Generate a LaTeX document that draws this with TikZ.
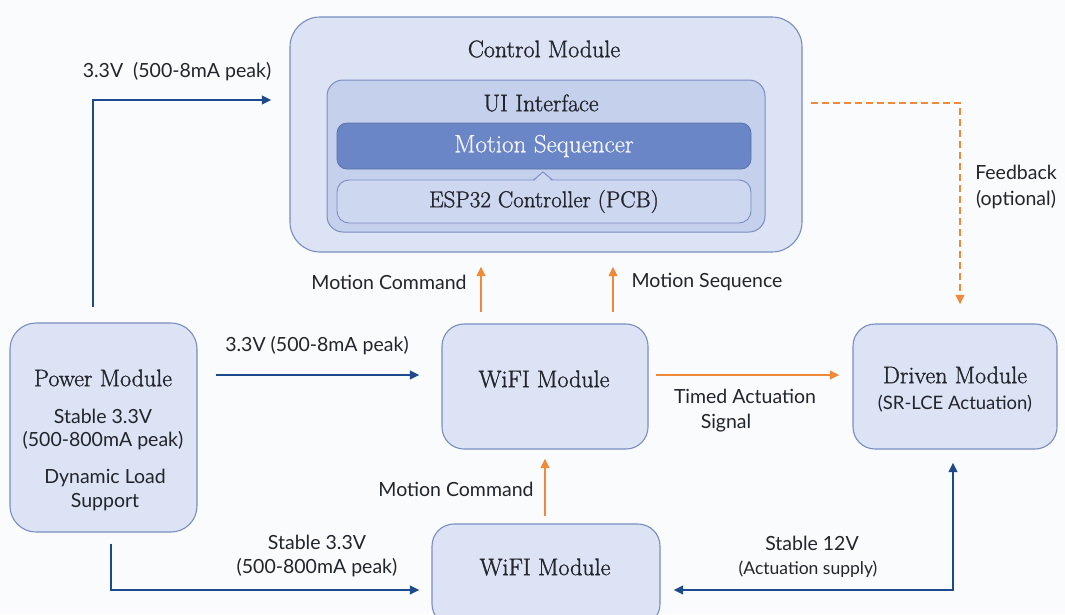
\documentclass[tikz,border=0pt]{standalone}
\usepackage{fontspec}
\newfontfamily\lab{Lato}
\newfontfamily\ttl{Latin Modern Roman}[FakeBold=1.2]
\newfontfamily\ttllight{Latin Modern Roman}[FakeBold=0.6]
\usetikzlibrary{arrows.meta,calc}
\definecolor{bg}{HTML}{FAFBFD}
\definecolor{boxfill}{HTML}{DCE3F4}
\definecolor{boxline}{HTML}{7A8DC0}
\definecolor{uifill}{HTML}{C5D0EC}
\definecolor{seqfill}{HTML}{6A86C7}
\definecolor{espfill}{HTML}{CED7F0}
\definecolor{pwr}{HTML}{1D4A8C}
\definecolor{sig}{HTML}{F08A3A}
\definecolor{ink}{HTML}{23252C}
\tikzset{
  x=1pt, y=-1pt,
  module/.style={draw=boxline, fill=boxfill, line width=1.1pt, rounded corners=22pt, inner sep=0pt},
  title/.style={font=\ttl\fontsize{24}{27}\selectfont, text=ink},
  lbl/.style={font=\lab\fontsize{19.5}{22}\selectfont, text=ink},
  pw/.style={draw=pwr, line width=2.2pt, -{Triangle[length=9.5pt,width=8.5pt]}},
  pwboth/.style={draw=pwr, line width=2.2pt, {Triangle[length=9.5pt,width=8.5pt]}-{Triangle[length=9.5pt,width=8.5pt]}},
  sg/.style={draw=sig, line width=2.2pt, -{Triangle[length=9.5pt,width=8.5pt]}},
  fb/.style={draw=sig, line width=2pt, dash pattern=on 7pt off 4pt, -{Triangle[length=9.5pt,width=8.5pt]}},
}
\begin{document}
\begin{tikzpicture}
\fill[bg] (0,0) rectangle (1065,614);
\useasboundingbox (0,0) rectangle (1065,614);

% control module and its nested blocks
\node[module, minimum width=512pt, minimum height=235pt, rounded corners=30pt] (ctrl) at (546,134.5) {};
\node[title] (ctrlt) at (544,49) {Control Module};
\node[draw=boxline, fill=uifill, line width=1pt, rounded corners=16pt, minimum width=438pt, minimum height=152pt] (ui) at (546,156) {};
\node[title] (uit) at (541,103) {UI Interface};
\node[draw=seqfill!85!black, fill=seqfill, line width=0.8pt, rounded corners=10pt, minimum width=414pt, minimum height=46pt,
      title, font=\ttllight\fontsize{25}{28}\selectfont, text=white!92!seqfill] (seq) at (544,146) {Motion Sequencer};
\filldraw[draw=boxline, fill=espfill, line width=0.9pt] (533,180.5) -- (543,172) -- (553,180.5);
\node[draw=boxline, fill=espfill, line width=0.9pt, rounded corners=12pt, minimum width=414pt, minimum height=43pt,
      title, font=\ttl\fontsize{23}{26}\selectfont] (esp) at (544,201.5) {ESP32 Controller (PCB)};
\fill[espfill] (534.5,181.3) -- (543,174) -- (551.5,181.3) -- cycle;

% power module
\node[module, minimum width=187pt, minimum height=209pt, rounded corners=26pt] (power) at (103.5,427.5) {};
\node[title] (powt) at (103,378) {Power Module};
\node[lbl] (pow1) at (103,416) {Stable 3.3V};
\node[lbl] (pow2) at (103,441) {(500-800mA peak)};
\node[lbl] (pow3) at (105,478) {Dynamic Load};
\node[lbl] (pow4) at (105,502) {Support};

% WiFi modules and driven module
\node[module, minimum width=206pt, minimum height=125pt] (wifi) at (545,386.5) {};
\node[title] (wifit) at (544,379) {WiFI Module};
\node[module, minimum width=204pt, minimum height=125pt] (drv) at (955,386.5) {};
\node[title] (drvt) at (955,375) {Driven Module};
\node[lbl, font=\lab\fontsize{18.5}{21}\selectfont] (drvs) at (955,404) {(SR-LCE Actuation)};
\node[module, minimum width=228pt, minimum height=102pt] (wifib) at (546,575) {};
\node[title] (wifibt) at (545,567) {WiFI Module};

% power connectors
\draw[pw, shorten <=15pt, shorten >=18pt] ([xshift=-10.5pt]power.north) |- (ctrl.west |- 0,100);
\node[lbl] (l1) at (177,72) {3.3V\ \ (500-8mA peak)};
\draw[pw, shorten <=18pt, shorten >=22pt] (power.east |- 0,375) -- (wifi.west |- 0,375);
\node[lbl] (l2) at (317,346) {3.3V (500-8mA peak)};
\draw[pw, shorten <=11pt, shorten >=12pt] ([xshift=7.5pt]power.south) |- (wifib.west |- 0,590);
\node[lbl] (l3) at (317,542) {Stable 3.3V};
\node[lbl] (l4) at (317,568) {(500-800mA peak)};
\draw[pwboth, shorten <=13pt, shorten >=13pt] (wifib.east |- 0,590) -| (drv.south -| 953,0);
\node[lbl] (l5) at (812,543) {Stable 12V};
\node[lbl, font=\lab\fontsize{17.5}{20}\selectfont] (l6) at (808,569) {(Actuation supply)};

% signal connectors
\draw[sg, shorten <=11pt, shorten >=14pt] (wifi.north -| 481,0) -- (ctrl.south -| 481,0);
\draw[sg, shorten <=11pt, shorten >=14pt] (wifi.north -| 613,0) -- (ctrl.south -| 613,0);
\node[lbl] (l7) at (389,282) {Motion Command};
\node[lbl] (l8) at (707,282) {Motion Sequence};
\draw[sg, shorten <=7pt, shorten >=13pt] (wifi.east |- 0,375) -- (drv.west |- 0,375);
\node[lbl] (l9) at (745,396) {Timed Actuation};
\node[lbl] (l10) at (726,423) {Signal};
\draw[sg, shorten <=7pt, shorten >=9pt] (wifib.north -| 545,0) -- (wifi.south -| 545,0);
\node[lbl] (l11) at (456,489) {Motion Command};
\draw[fb, shorten <=8pt, shorten >=19pt] (ctrl.east |- 0,103) -| (drv.north -| 960,0);
\node[lbl] (l12) at (1016,172) {Feedback};
\node[lbl] (l13) at (1016,200) {(optional)};
\end{tikzpicture}
\end{document}
